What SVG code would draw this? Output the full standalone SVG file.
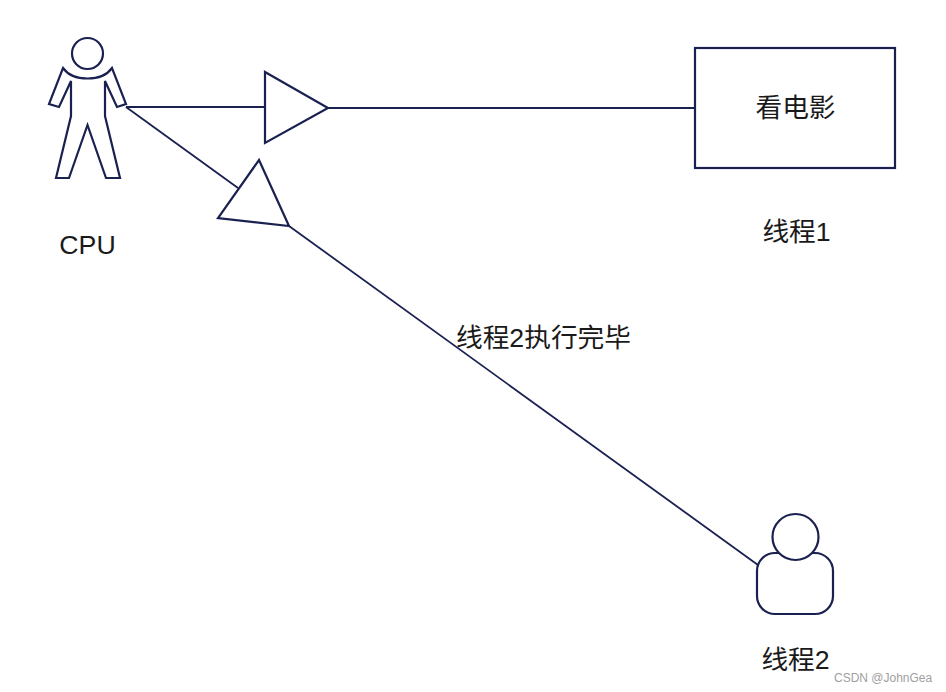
<svg xmlns="http://www.w3.org/2000/svg" width="946" height="692" viewBox="0 0 946 692">
<style>
.s{fill:#fff;stroke:#1a2150;stroke-width:2.200;stroke-linejoin:miter}
.c{fill:none;stroke:#1a2150;stroke-width:1.800}
text{font-family:"Liberation Sans","Noto Sans CJK SC",sans-serif;font-size:26.700px;fill:#1a1a1a}
</style>
<rect width="946" height="692" fill="#fff"/>
<g id="connectors">
<path class="c" d="M126 107H265"/>
<path class="c" d="M328 108H695"/>
<path class="c" d="M126 107L238 188"/>
<path class="c" d="M289 226L758 565"/>
</g>
<g id="cpu">
<circle class="s" cx="87.500" cy="53.500" r="15.500"/>
<path class="s" d="M63 68C73 82 102 82 112 68L126 104L117 107L105 81V116L120 178H106L87.500 125L69 178H56L71 116V81L59 107L49 104Z"/>
<text x="87.500" y="254" text-anchor="middle">CPU</text>
</g>
<g id="triangle1"><path class="s" d="M265 72L328 108L265 143Z"/></g>
<g id="triangle2"><path class="s" d="M259 160L289 226L218 218Z"/></g>
<g id="movie">
<rect class="s" x="695" y="48" width="200" height="120"/>
<text x="795.500" y="117" text-anchor="middle">看电影</text>
</g>
<g id="thread1-label"><text x="796.500" y="241" text-anchor="middle">线程1</text></g>
<g id="edge-label"><text x="456" y="347">线程2执行完毕</text></g>
<g id="thread2">
<rect class="s" x="757" y="553" width="76" height="61" rx="18"/>
<circle class="s" cx="795.500" cy="537" r="23"/>
<text x="795.500" y="669" text-anchor="middle">线程2</text>
</g>
<text x="834" y="682" style="font-size:12px;fill:#a0a0a0">CSDN @JohnGea</text>
</svg>
